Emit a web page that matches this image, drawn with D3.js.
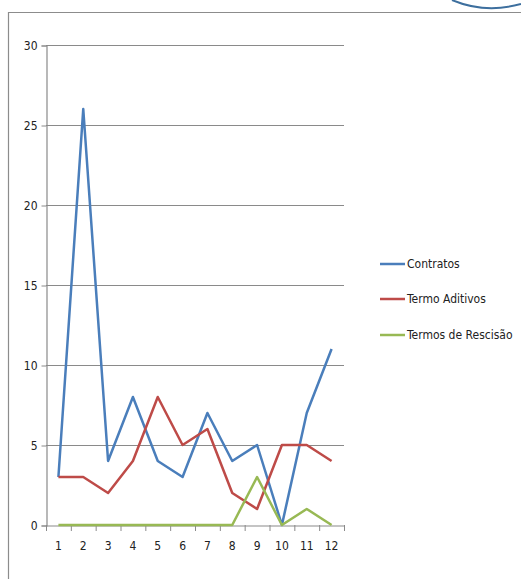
<!DOCTYPE html>
<html>
<head>
<meta charset="utf-8">
<script src="https://cdn.jsdelivr.net/npm/d3@7"></script>
<style>
  body { margin: 0; background: #fff; }
  svg { display: block; }
  text { font-family: "Liberation Sans Narrow", "DejaVu Sans Condensed", sans-serif; fill: #222; }
</style>
</head>
<body>
<svg width="521" height="579"></svg>
<script>
// chart data
const months = [1, 2, 3, 4, 5, 6, 7, 8, 9, 10, 11, 12];
const contratos = [3, 26, 4, 8, 4, 3, 7, 4, 5, 0, 7, 11];
const termoAditivos = [3, 3, 2, 4, 8, 5, 6, 2, 1, 5, 5, 4];
const termosRescisao = [0, 0, 0, 0, 0, 0, 0, 0, 3, 0, 1, 0];
const yTicks = [0, 5, 10, 15, 20, 25, 30];

const series = [
  { name: 'Contratos', values: contratos, color: '#4a7ebb' },
  { name: 'Termo Aditivos', values: termoAditivos, color: '#be4b48' },
  { name: 'Termos de Rescisão', values: termosRescisao, color: '#98b954' }
];

const svg = d3.select('svg');

// decorative logo arc top-right
svg.append('path')
  .attr('d', 'M452,0 Q485,14 521,4')
  .attr('fill', 'none')
  .attr('stroke', '#3d6f9e')
  .attr('stroke-width', 2);

// outer frame (left + top)
svg.append('path')
  .attr('d', 'M8.5,579 L8.5,12.5 L521,12.5')
  .attr('fill', 'none')
  .attr('stroke', '#8c8c8c')
  .attr('stroke-width', 1.2);

const plotLeft = 46, plotRight = 344, plotTop = 45, plotBottom = 525;

const x = d3.scaleBand().domain(months).range([plotLeft, plotRight]);
const y = d3.scaleLinear().domain([0, 30]).range([plotBottom, plotTop]);

// gridlines
svg.append('g')
  .selectAll('line')
  .data(yTicks.filter(d => d > 0))
  .join('line')
  .attr('x1', plotLeft).attr('x2', plotRight)
  .attr('y1', d => y(d) + 0.5).attr('y2', d => y(d) + 0.5)
  .attr('stroke', '#8a8a8a')
  .attr('stroke-width', 1.2);

// y axis
const yAxis = svg.append('g')
  .attr('transform', `translate(${plotLeft + 0.5},0.5)`)
  .call(d3.axisLeft(y).tickValues(yTicks).tickSize(5).tickPadding(4));
yAxis.select('.domain').attr('stroke', '#8a8a8a').attr('stroke-width', 1.2);
yAxis.selectAll('.tick line').attr('stroke', '#8a8a8a');
yAxis.selectAll('text').style('font-size', '12px').attr('fill', '#222');

// x axis with ticks at category boundaries
const xAxis = svg.append('g')
  .attr('transform', `translate(0,${plotBottom + 0.5})`)
  .call(d3.axisBottom(x).tickSize(0).tickPadding(16));
xAxis.select('.domain').attr('stroke', '#8a8a8a').attr('stroke-width', 1.2);
xAxis.selectAll('text').style('font-size', '12px').attr('fill', '#222');

svg.append('g')
  .selectAll('line')
  .data(months.concat([13]))
  .join('line')
  .attr('x1', d => (d <= 12 ? x(d) : plotRight) + 0.5)
  .attr('x2', d => (d <= 12 ? x(d) : plotRight) + 0.5)
  .attr('y1', plotBottom).attr('y2', plotBottom + 6)
  .attr('stroke', '#8a8a8a');

// lines
const line = d3.line()
  .x((d, i) => x(months[i]) + x.bandwidth() / 2)
  .y(d => y(d));

svg.append('g')
  .selectAll('path')
  .data(series)
  .join('path')
  .attr('d', d => line(d.values))
  .attr('fill', 'none')
  .attr('stroke', d => d.color)
  .attr('stroke-width', 2.5)
  .attr('stroke-linejoin', 'round');

// legend
const legendY = [264, 299, 335];
const legend = svg.append('g')
  .selectAll('g')
  .data(series)
  .join('g')
  .attr('transform', (d, i) => `translate(380,${legendY[i]})`);

legend.append('line')
  .attr('x1', 0).attr('x2', 25)
  .attr('stroke', d => d.color)
  .attr('stroke-width', 2.5);

legend.append('text')
  .attr('x', 27)
  .attr('dy', '0.35em')
  .style('font-size', '12px')
  .text(d => d.name);
</script>
</body>
</html>
